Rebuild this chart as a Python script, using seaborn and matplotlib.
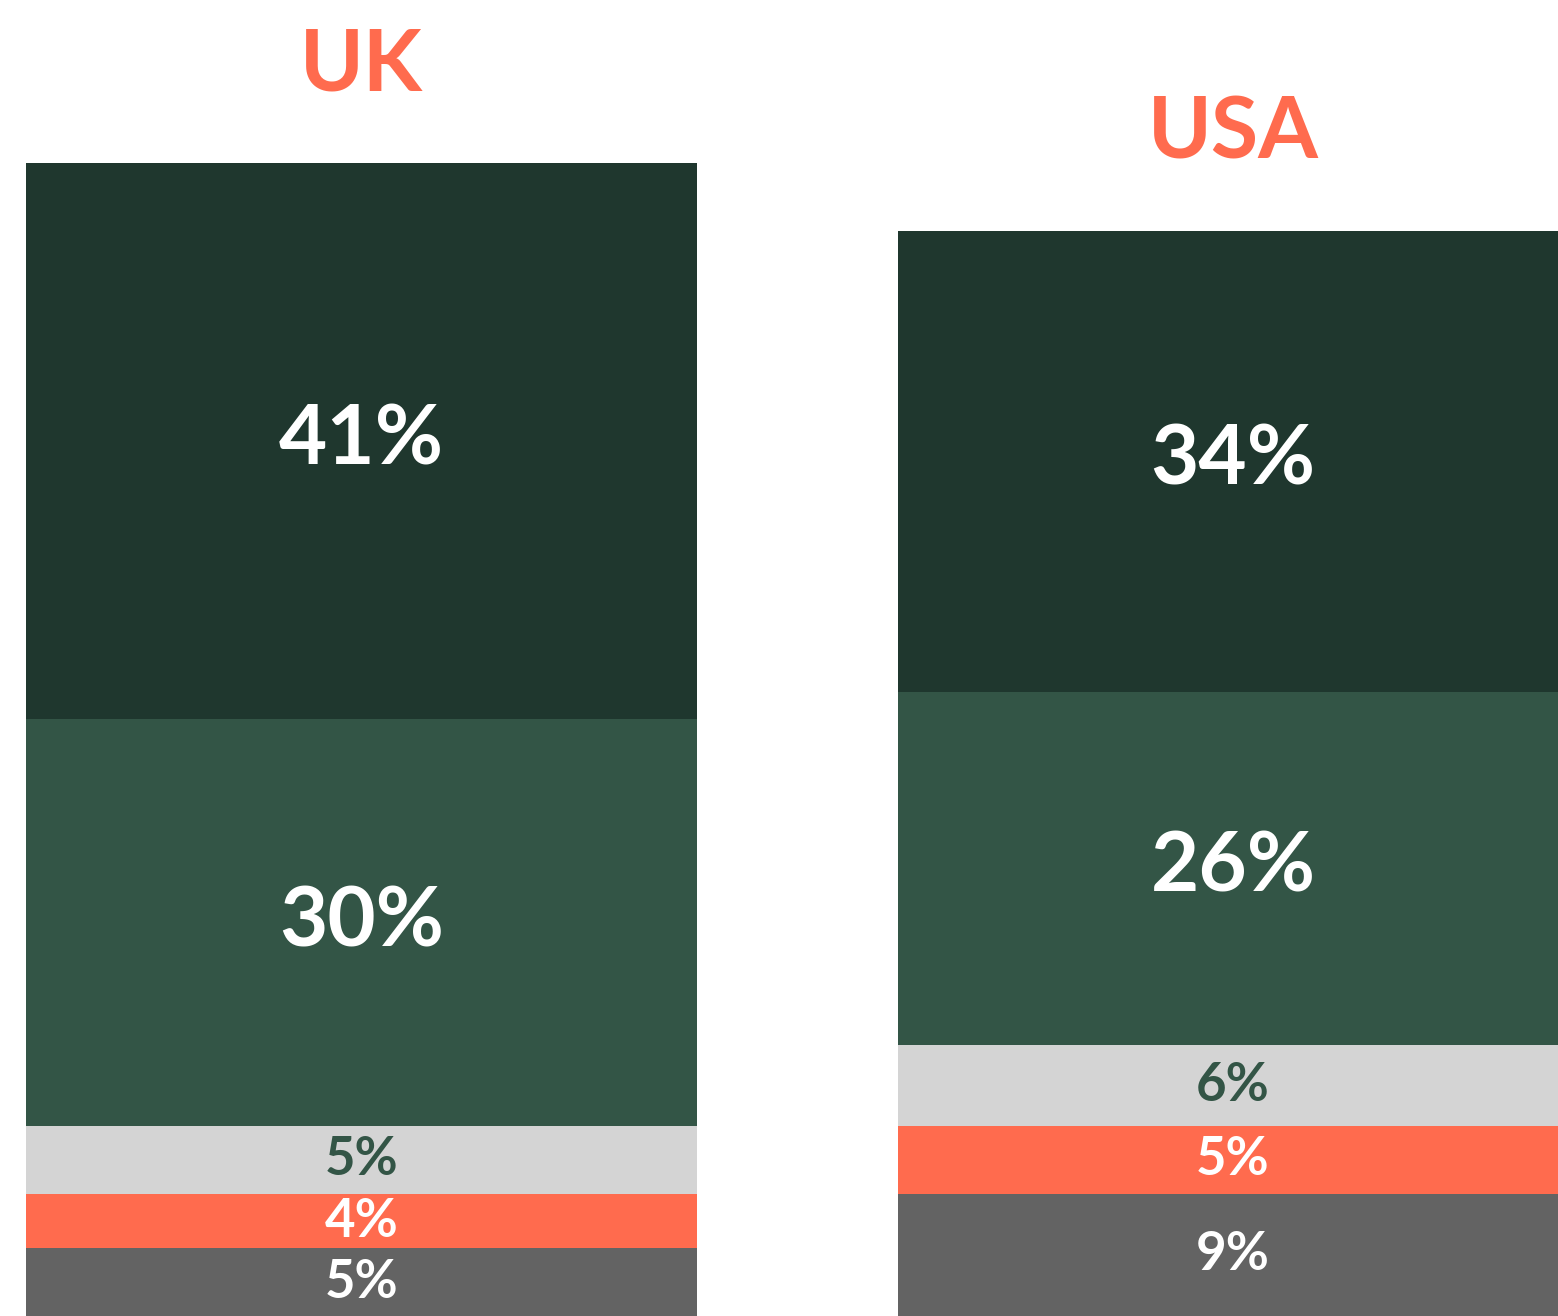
import numpy as np
import pandas as pd
import seaborn as sns
import matplotlib.pyplot as plt

# stacked shares, bottom segment first
countries = ['UK', 'USA']
segment_names = ['grey', 'orange', 'light', 'medium', 'dark']
uk_values = [5, 4, 5, 30, 41]
usa_values = [9, 5, 6, 26, 34]
segment_colors = ['#636363', '#FF6B4E', '#D4D4D4', '#335546', '#1F372E']
label_colors = ['white', 'white', '#335546', 'white', 'white']
title_color = '#FF6B4E'

sns.set_theme(style='white')
plt.rcParams['font.family'] = ['Lato', 'DejaVu Sans']

values = np.array([uk_values, usa_values])
cumulative = values.cumsum(axis=1)

fig = plt.figure(figsize=(15.58, 13.16), dpi=100)
ax = fig.add_axes([0, 0, 1, 1])

# draw the tallest cumulative bar first, then smaller ones on top
for i in reversed(range(len(segment_names))):
    df = pd.DataFrame({'country': countries, 'value': cumulative[:, i]})
    sns.barplot(data=df, x='country', y='value', color=segment_colors[i],
                saturation=1, width=0.77, linewidth=0, ax=ax)

# percentage labels in the middle of each segment
for j, country in enumerate(countries):
    for i in range(len(segment_names)):
        v = values[j, i]
        mid = cumulative[j, i] - v / 2
        # thin segments get a smaller label so it stays inside
        size = 60 if v >= 10 else 38
        ax.text(j, mid, f'{v}%', ha='center', va='center',
                fontsize=size, fontweight='bold', color=label_colors[i])
    ax.annotate(country, xy=(j, cumulative[j, -1]), xytext=(0, 52),
                textcoords='offset points', ha='center', va='baseline',
                fontsize=62, fontweight='bold', color=title_color)

ax.set_xlim(-0.415, 1.373)
ax.set_ylim(0, 97)
ax.axis('off')

fig.savefig('out.png', dpi=100)
